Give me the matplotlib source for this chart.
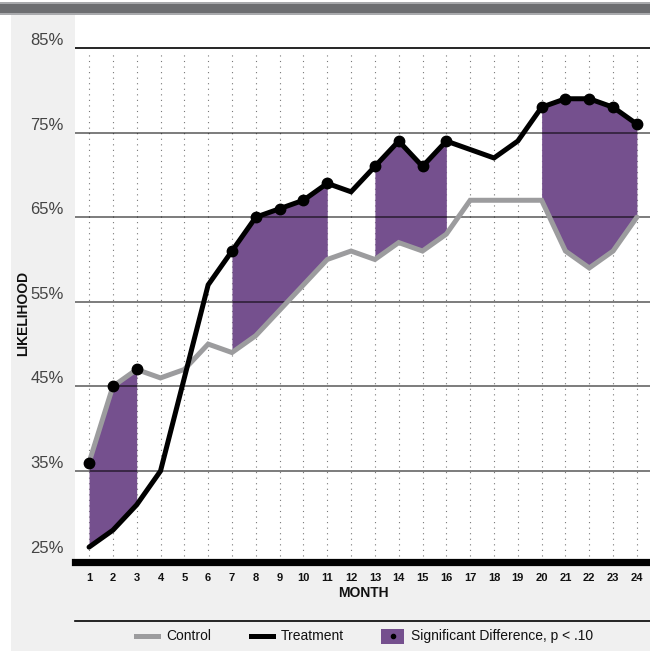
import numpy as np
import matplotlib
matplotlib.use("Agg")
import matplotlib.pyplot as plt
from matplotlib.patches import Rectangle
from matplotlib.lines import Line2D

plt.rcParams['font.family'] = ['Liberation Sans', 'DejaVu Sans']

months = list(range(1, 25))
control = [36, 45, 47, 46, 47, 50, 49, 51, 54, 57, 60, 61,
           60, 62, 61, 63, 67, 67, 67, 67, 61, 59, 61, 65]
treatment = [26, 28, 31, 35, 46, 57, 61, 65, 66, 67, 69, 68,
             71, 74, 71, 74, 73, 72, 74, 78, 79, 79, 78, 76]
# runs of months with a significant difference
sig_runs = [(1, 3), (7, 11), (13, 16), (20, 24)]
y_ticks = [25, 35, 45, 55, 65, 75, 85]
y_labels = ["25%", "35%", "45%", "55%", "65%", "75%", "85%"]

W, H = 650, 651
fig = plt.figure(figsize=(W / 100, H / 100), dpi=100)
fig.patch.set_facecolor("white")

def px_rect(x0, y0, x1, y1, color, z=-1):
    # rectangle in pixel coords, y measured from the top
    fig.patches.append(Rectangle((x0 / W, 1 - y1 / H), (x1 - x0) / W, (y1 - y0) / H,
                                 transform=fig.transFigure, color=color, zorder=z, lw=0))

px_rect(11, 15, 650, 651, "#f0f0f0")
px_rect(0, 2.5, 650, 15, "#a9aaad")
px_rect(0, 4, 650, 13, "#6d6e71")

ax = fig.add_axes([75 / W, 1 - 561.5 / H, 1 - 75 / W, (561.5 - 15) / H])
ax.set_facecolor("white")
ax.set_xlim(0.41, 24.55)
ax.set_ylim(24.3, 88.9)

x = np.array(months)
c = np.array(control)
t = np.array(treatment)

ax.vlines(x, 25, 84.5, colors="#777777", lw=0.8, linestyles=(0, (1, 4)), zorder=1)

for lo, hi in sig_runs:
    m = (x >= lo) & (x <= hi)
    ax.fill_between(x[m], c[m], t[m], color="#75508e", lw=0, zorder=2)

for v in y_ticks[1:]:
    if v == 85:
        ax.axhline(v, color="black", lw=1.2, zorder=2.5)
    else:
        ax.axhline(v, color="black", alpha=0.6, lw=1.2, zorder=2.5)

ax.plot(x, c, color="#9c9c9e", lw=3.6, solid_capstyle="round", solid_joinstyle="miter", zorder=3)
ax.plot(x, t, color="black", lw=3.6, solid_capstyle="round", solid_joinstyle="miter", zorder=3.5)

sig_x = []
sig_y = []
for lo, hi in sig_runs:
    for mo in range(lo, hi + 1):
        sig_x.append(mo)
        sig_y.append(max(control[mo - 1], treatment[mo - 1]))
ax.plot(sig_x, sig_y, "o", color="black", ms=7.5, zorder=4)

for s in ["top", "left", "right"]:
    ax.spines[s].set_visible(False)
ax.spines["bottom"].set_linewidth(5.2)
ax.spines["bottom"].set_color("black")

ax.set_xticks(months)
ax.set_xticklabels([str(m) for m in months], fontsize=8, fontweight="bold", color="#111111")
ax.tick_params(axis="x", length=0, pad=8)

ax.set_yticks(y_ticks)
ax.set_yticklabels(y_labels, fontsize=12, color="#444444")
ax.tick_params(axis="y", length=0, pad=8)
for lab in ax.get_yticklabels():
    lab.set_va("bottom")

fig.text(363 / W, 1 - 593 / H, "MONTH", fontsize=10, fontweight="bold",
         ha="center", va="center", color="#111111")
fig.text(23 / W, 1 - 313 / H, "LIKELIHOOD", fontsize=10, fontweight="bold",
         rotation=90, ha="center", va="center", color="#111111")

# legend
fig.add_artist(Line2D([75 / W, 1], [1 - 621 / H, 1 - 621 / H], color="black", lw=1.2,
                      transform=fig.transFigure))
ly = 1 - 636 / H
fig.add_artist(Line2D([136 / W, 158 / W], [ly, ly], color="#9c9c9e", lw=3.6,
                      transform=fig.transFigure))
fig.text(166 / W, ly, "Control", fontsize=10, va="center", color="#111111")
fig.add_artist(Line2D([251 / W, 273 / W], [ly, ly], color="black", lw=3.6,
                      transform=fig.transFigure))
fig.text(281 / W, ly, "Treatment", fontsize=10, va="center", color="#111111")
fig.patches.append(Rectangle((381 / W, 1 - 644 / H), 23 / W, 15 / H,
                             transform=fig.transFigure, color="#75508e", lw=0))
fig.add_artist(Line2D([392.5 / W], [ly], marker="o", ms=3, color="black",
                      transform=fig.transFigure))
fig.text(411 / W, ly, "Significant Difference, p < .10", fontsize=10, va="center",
         color="#111111")

fig.savefig("out.png", dpi=100)
